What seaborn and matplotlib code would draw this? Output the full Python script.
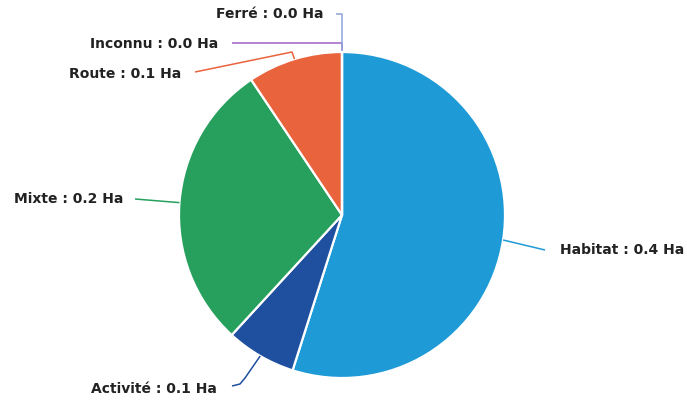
import numpy as np
import matplotlib
matplotlib.use("Agg")
import matplotlib.pyplot as plt
import seaborn as sns

categories = ["Habitat", "Activité", "Mixte", "Route", "Inconnu", "Ferré"]
values = [0.42, 0.053, 0.22, 0.072, 0.0, 0.0]
slice_colors = ["#1e9bd7", "#1f4f9f", "#27a05e", "#e9633d", "#9b62c9", "#8ea6d8"]

sns.set_theme(style="white")
plt.rcParams["font.family"] = ["DejaVu Sans"]

W, H = 687, 401
cx, cy, R = 342, 215, 163  # pixel layout of the pie

fig = plt.figure(figsize=(W / 100, H / 100), dpi=100)
ax = fig.add_axes([0, 0, 1, 1])
ax.set_xlim(-cx / R, (W - cx) / R)
ax.set_ylim(-(H - cy) / R, cy / R)
ax.set_aspect("equal")
ax.axis("off")

wedges, _ = ax.pie(values, colors=slice_colors, startangle=90, counterclock=False,
                   radius=1.0, wedgeprops=dict(edgecolor="white", linewidth=1.6))
ax.set_xlim(-cx / R, (W - cx) / R)
ax.set_ylim(-(H - cy) / R, cy / R)


def px(x, y):
    return (x - cx) / R, (cy - y) / R

# label layout: (elbow points in pixels, text anchor in pixels, ha)
layout = {
    "Habitat": ([(545, 250)], (560, 250), "left"),
    "Activité": ([(245, 378), (240, 384), (232, 386)], (217, 389), "right"),
    "Mixte": ([(135, 199)], (123, 199), "right"),
    "Route": ([(292, 52), (195, 72)], (181, 74), "right"),
    "Inconnu": ([(342, 43), (232, 43)], (218, 44), "right"),
    "Ferré": ([(342, 14), (336, 14)], (323, 14), "right"),
}

for w, cat, val, col in zip(wedges, categories, values, slice_colors):
    mid = np.deg2rad((w.theta1 + w.theta2) / 2)
    ax_x, ax_y = np.cos(mid), np.sin(mid)
    pts, tpos, ha = layout[cat]
    xs = [ax_x] + [px(*p)[0] for p in pts]
    ys = [ax_y] + [px(*p)[1] for p in pts]
    ax.plot(xs, ys, color=col, lw=1.1, solid_capstyle="butt", zorder=0 if val == 0 else 3)
    tx, ty = px(*tpos)
    ax.text(tx, ty, f"{cat} : {val:.1f} Ha", ha=ha, va="center",
            fontsize=10, fontweight="bold", color="#222222")

fig.savefig("out.png", dpi=100, facecolor="white")
